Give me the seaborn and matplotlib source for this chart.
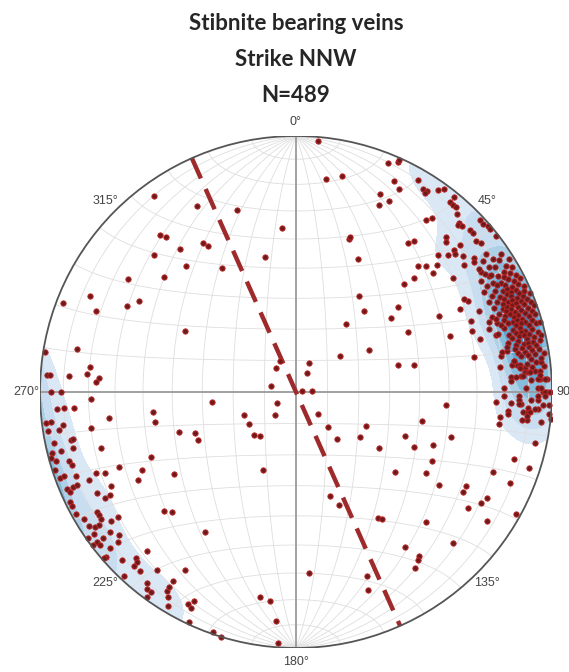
import numpy as np
import pandas as pd
import seaborn as sns
import matplotlib.pyplot as plt
from matplotlib.patches import Circle

title_lines = ['Stibnite bearing veins', 'Strike NNW', 'N=489']

# mean vein plane drawn as the dashed great circle
mean_strike = 336
mean_dip = 90

tick_azimuths = [0, 45, 90, 135, 180, 225, 270, 315]
tick_labels = ['0°', '45°', '90°', '135°', '180°', '225°', '270°', '315°']

nw_poles = [(324, 6), (332, 19), (342, 26), (355, 36), (319, 20), (320, 22), (321, 29), (328, 32),
            (329, 34), (314, 24), (319, 35), (329, 43), (347, 45), (304, 22), (311, 32), (295, 12),
            (291, 3), (292, 17), (297, 27), (300, 30), (299, 49), (281, 14), (279, 1), (277, 20),
            (320, 80), (332, 79), (284, 82)]

ne_poles = [(5, 2), (22, 4), (24, 2), (24, 1), (8, 17), (12, 15), (25, 10), (27, 12), (23, 17),
            (26, 18), (24, 21), (30, 5), (32, 7), (33, 7), (33, 8), (35, 4), (36, 2), (39, 2),
            (39, 5), (40, 5), (41, 5), (42, 7), (44, 9), (44, 10), (45, 9), (37, 17), (38, 15),
            (44, 17), (45, 18), (48, 18), (48, 15), (47, 8), (48, 8), (50, 9), (51, 8), (47, 2),
            (48, 2), (49, 1), (50, 1), (52, 1), (19, 37), (19, 36), (37, 28), (38, 26), (25, 42),
            (46, 24), (48, 21), (49, 19), (44, 32), (46, 30), (48, 27), (49, 30), (46, 36),
            (54, 25), (51, 17), (53, 19), (53, 14), (54, 15), (45, 40), (57, 15), (59, 13),
            (33, 53), (50, 47), (52, 51), (40, 56), (62, 25), (63, 29), (62, 37), (66, 23),
            (36, 63), (68, 27), (71, 28), (70, 36), (62, 49), (70, 21), (72, 22), (74, 26),
            (60, 63), (51, 72), (25, 80), (75, 56), (77, 51), (79, 30), (80, 20), (61, 26),
            (69, 19), (71, 18), (74, 20), (79, 19), (79, 17)]

se_poles = [(29, 83), (80, 88), (86, 85), (135, 80), (137, 75), (139, 70), (116, 65), (125, 65),
            (124, 58), (112, 52), (115, 48), (103, 48), (111, 42), (95, 41), (106, 37), (117, 40),
            (129, 49), (122, 40), (123, 34), (119, 25), (121, 25), (124, 20), (121, 17), (119, 16),
            (112, 18), (113, 10), (107, 12), (108, 5), (102, 5), (162, 55), (159, 51), (147, 41),
            (146, 40), (135, 29), (124, 11), (119, 2), (134, 16), (145, 27), (143, 21), (144, 20),
            (146, 18), (176, 30), (159, 24), (160, 19)]

east_rim_poles = [(93, 23), (97, 21), (99, 21), (89, 20), (91, 20), (95, 18), (93, 13), (91, 14),
                  (95, 12), (95, 10), (94, 10), (97, 10), (92, 9), (92, 6), (91, 6), (90, 4),
                  (97, 4), (90, 2), (87, 2), (89, 11), (89, 6), (96, 0), (85, 7), (87, 5), (87, 9),
                  (86, 17), (86, 13), (84, 12), (83, 14), (83, 21), (83, 16), (82, 15), (83, 13),
                  (84, 11), (85, 11), (85, 10), (84, 8), (87, 17), (86, 15), (86, 12), (85, 5),
                  (83, 4), (87, 6), (87, 3), (89, 5), (90, 3), (91, 3), (93, 4), (94, 6), (94, 7),
                  (95, 9), (96, 10), (92, 14), (93, 14), (93, 17), (90, 1), (93, 1), (95, 1),
                  (96, 18), (97, 12)]

# dense ENE maximum, points overlap so positions are estimated
ene_cluster = [(54, 9), (55, 12), (56, 4), (56, 8), (57, 11), (57, 6), (58, 2), (58, 14), (58, 9),
               (59, 5), (59, 12), (60, 7), (60, 10), (60, 3), (61, 13), (61, 8), (61, 5), (61, 16),
               (62, 10), (62, 3), (62, 7), (62, 12), (63, 9), (63, 14), (63, 5), (63, 2), (64, 11),
               (64, 7), (64, 16), (64, 4), (64, 9), (65, 13), (65, 6), (65, 10), (65, 2), (65, 8),
               (66, 12), (66, 5), (66, 15), (66, 9), (66, 3), (67, 11), (67, 7), (67, 13), (67, 4),
               (67, 9), (67, 1), (68, 10), (68, 6), (68, 14), (68, 3), (68, 12), (68, 8), (69, 5),
               (69, 11), (69, 16), (69, 8), (69, 2), (69, 13), (70, 7), (70, 10), (70, 4), (70, 14),
               (70, 1), (70, 12), (71, 6), (71, 9), (71, 15), (71, 3), (71, 11), (72, 8), (72, 12),
               (72, 5), (72, 2), (72, 14), (72, 10), (73, 7), (73, 4), (73, 11), (73, 16), (73, 9),
               (74, 6), (74, 13), (74, 3), (74, 10), (74, 1), (75, 8), (75, 12), (75, 5), (75, 15),
               (75, 10), (76, 7), (76, 3), (76, 11), (76, 14), (76, 9), (77, 5), (77, 12), (77, 8),
               (77, 2), (77, 16), (78, 10), (78, 6), (78, 13), (78, 3), (78, 8), (79, 11), (79, 5),
               (79, 14), (79, 8), (80, 4), (80, 10), (80, 13), (80, 7), (81, 2), (81, 9), (81, 12),
               (81, 6), (82, 15), (82, 8), (82, 4), (83, 10), (83, 6), (84, 13), (84, 3), (85, 9),
               (86, 5), (56, 15), (59, 17), (62, 18), (65, 18), (70, 18), (74, 19), (78, 17),
               (67, 17), (72, 17)]

west_poles = [(274, 3), (274, 4), (274, 12), (275, 19), (274, 24), (273, 23), (270, 5), (270, 9),
              (268, 21), (266, 7), (266, 10), (266, 14), (262, 27), (263, 2), (263, 4), (262, 9),
              (261, 2), (261, 7), (260, 20), (258, 11), (258, 12), (258, 4), (256, 2), (256, 6),
              (256, 11), (254, 22), (255, 1), (254, 3), (253, 8), (252, 9), (250, 2), (250, 4),
              (252, 1), (249, 9), (247, 13), (248, 17), (247, 20), (247, 26), (247, 3), (246, 4),
              (247, 6), (247, 8), (243, 14), (241, 16), (241, 18), (243, 20), (244, 2), (243, 2),
              (239, 10), (238, 10), (237, 10), (241, 2), (239, 4), (237, 4), (236, 6), (236, 8),
              (235, 13), (235, 16), (235, 4), (235, 1), (233, 10), (231, 12), (230, 10), (233, 3),
              (232, 3), (233, 6), (233, 1), (230, 6), (229, 2), (229, 1), (226, 6), (224, 11),
              (223, 10), (221, 8), (223, 8), (223, 16), (218, 13), (212, 19), (223, 2), (218, 6),
              (217, 4), (216, 4), (213, 8), (213, 10), (213, 13), (212, 6), (211, 3), (207, 8),
              (206, 7), (206, 10), (216, 1), (205, 1), (199, 1), (197, 0)]

sw_inner_poles = [(190, 20), (187, 19), (185, 11), (184, 2), (243, 33), (262, 43), (258, 43),
                  (241, 30), (246, 38), (236, 42), (251, 50), (248, 55), (244, 55), (228, 31),
                  (226, 33), (213, 35), (263, 63), (246, 72), (236, 72), (224, 71), (219, 72),
                  (203, 63), (241, 83), (222, 80)]


def project(trend, plunge):
    # lower hemisphere equal-area (Schmidt) net, unit radius
    t = np.radians(trend)
    p = np.radians(plunge)
    r = np.sqrt(2) * np.sin((np.pi / 2 - p) / 2)
    return r * np.sin(t), r * np.cos(t)


def lonlat(lon, lat):
    lon = np.radians(lon)
    lat = np.radians(lat)
    k = np.sqrt(1 + np.cos(lat) * np.cos(lon))
    return np.cos(lat) * np.sin(lon) / k, np.sin(lat) / k


all_poles = (nw_poles + ne_poles + se_poles + east_rim_poles + ene_cluster
             + west_poles + sw_inner_poles)
poles = pd.DataFrame(all_poles, columns=['trend', 'plunge'])
poles['x'], poles['y'] = project(poles['trend'], poles['plunge'])

sns.set_style('white')
fig = plt.figure(figsize=(5.69, 6.72), dpi=100)
ax = fig.add_axes([40 / 569, 24 / 672, 512 / 569, 512 / 672])
ax.set_xlim(-1, 1)
ax.set_ylim(-1, 1)
ax.set_aspect('equal')
ax.axis('off')

# exponential kamb density on the sphere (sigma = 3)
g = np.linspace(-1.02, 1.02, 241)
X, Y = np.meshgrid(g, g)
R = np.clip(np.hypot(X, Y), 0, 1)
theta = 2 * np.arcsin(R / np.sqrt(2))
az = np.arctan2(X, Y)
gx, gy, gz = np.sin(theta) * np.sin(az), np.sin(theta) * np.cos(az), np.cos(theta)
tr = np.radians(poles['trend'].values)
pl = np.radians(poles['plunge'].values)
n = len(poles)
f = 2 * (1 + n / 9.0)
dens = np.zeros_like(X)
for a, b in zip(tr, pl):
    c = np.abs(gx * np.cos(b) * np.sin(a) + gy * np.cos(b) * np.cos(a) + gz * np.sin(b))
    dens += np.exp(f * (c - 1))
dens = dens / np.sqrt(n * (f / 2 - 1) / f ** 2)

top = dens.max()
levels = top * np.array([0.15, 0.27, 0.41, 0.55, 0.7, 0.85, 1.01])
cs = ax.contourf(X, Y, dens, levels=levels, cmap='Blues', vmin=0, vmax=top * 1.45, zorder=1)
cs.set_clip_path(Circle((0, 0), 1, transform=ax.transData))

# net grid
for lon in range(-80, 90, 10):
    if lon == 0:
        continue
    x, y = lonlat(lon, np.linspace(-90, 90, 181))
    ax.plot(x, y, color='#dedede', lw=0.6, zorder=2)
for lat in range(-80, 90, 10):
    if lat == 0:
        continue
    x, y = lonlat(np.linspace(-90, 90, 181), lat)
    ax.plot(x, y, color='#dedede', lw=0.6, zorder=2)
ax.plot([0, 0], [-1, 1], color='#9a9a9a', lw=1.3, zorder=2)
ax.plot([-1, 1], [0, 0], color='#9a9a9a', lw=1.3, zorder=2)
ax.add_patch(Circle((0, 0), 1, fill=False, ec='#555555', lw=1.3, zorder=5))

# mean plane as great circle
s = np.radians(mean_strike)
d = np.radians(mean_dip)
sv = np.array([np.sin(s), np.cos(s), 0.0])
dv = np.array([np.sin(s + np.pi / 2) * np.cos(d), np.cos(s + np.pi / 2) * np.cos(d), np.sin(d)])
t = np.linspace(0, np.pi, 181)
gc = np.outer(np.cos(t), sv) + np.outer(np.sin(t), dv)
gc_trend = np.degrees(np.arctan2(gc[:, 0], gc[:, 1]))
gc_plunge = np.degrees(np.arcsin(np.clip(gc[:, 2], -1, 1)))
gcx, gcy = project(gc_trend, gc_plunge)
ax.plot(gcx, gcy, color='#9e2a2b', lw=3.2, ls=(0, (5, 2.6)), zorder=3, solid_capstyle='butt')

sns.scatterplot(data=poles, x='x', y='y', s=15, color='#6e1a1a', edgecolor='#c62828',
                linewidth=0.6, zorder=4, ax=ax, legend=False)

for azm, lab in zip(tick_azimuths, tick_labels):
    a = np.radians(azm)
    ax.text(1.055 * np.sin(a), 1.055 * np.cos(a), lab, ha='center', va='center',
            fontsize=9, color='#444444', family='Liberation Sans', clip_on=False)

for i, line in enumerate(title_lines):
    fig.text(296 / 569, 1 - (24 + 36 * i) / 672, line, ha='center', va='center',
             fontsize=16, fontweight='bold', family='Lato')

fig.savefig('out.png', dpi=100)
